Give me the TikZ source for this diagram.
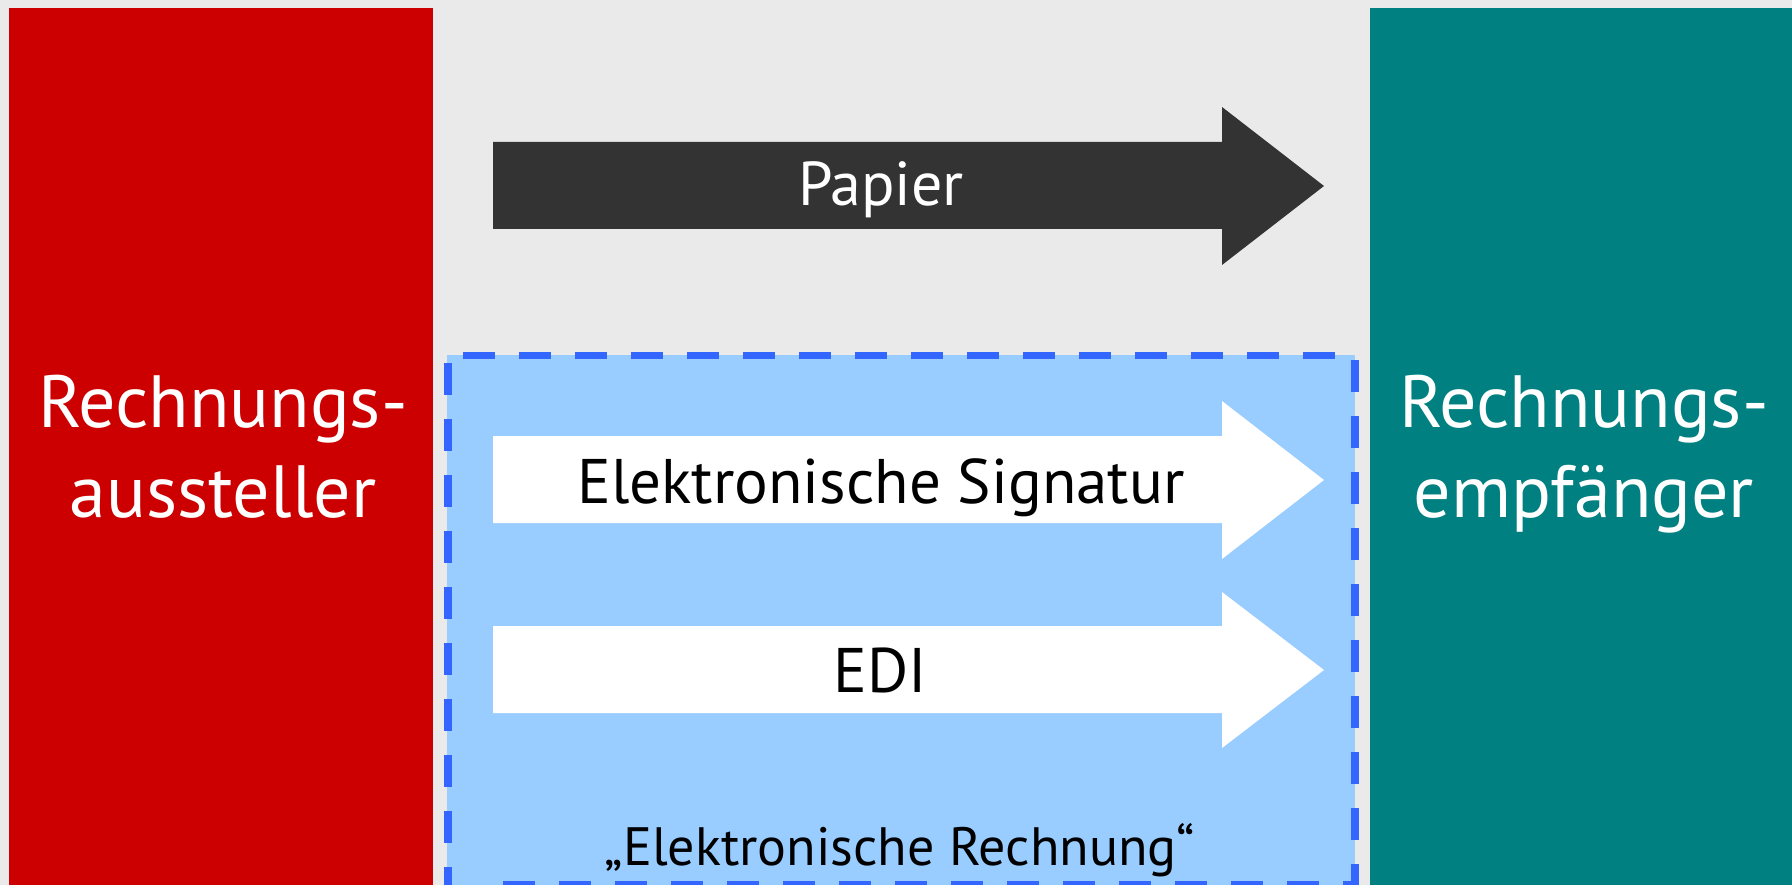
\documentclass[tikz,border=0pt]{standalone}
\usepackage{fontspec}
\setmainfont{PT Sans}
\definecolor{bgc}{HTML}{EAEAEA}
\definecolor{senderred}{HTML}{CC0000}
\definecolor{recvteal}{HTML}{008080}
\definecolor{darkarrow}{HTML}{333333}
\definecolor{elfill}{HTML}{99CCFF}
\definecolor{eldash}{HTML}{3366FF}
\begin{document}
\begin{tikzpicture}[x=1pt,y=-1pt,
  lbl/.style={inner sep=0pt, anchor=base},
  biglbl/.style={lbl, text=white, font=\fontsize{74}{90}\selectfont},
  dashseg/.style={fill=eldash}]
\useasboundingbox (0,0) rectangle (1792,885);
\fill[bgc] (0,0) rectangle (1792,885);
% side boxes
\fill[senderred] (9,8) rectangle (433,885);
\fill[recvteal] (1370,8) rectangle (1792,885);
% electronic area
\fill[elfill] (447,355) rectangle (1355,885);
\foreach \i in {0,...,15} \path[dashseg] ({463+56*\i},352) rectangle ++(32,7);
\foreach \i in {0,...,9} \path[dashseg] (1351,{360+56*\i}) rectangle ++(8,32);
\foreach \i in {0,...,9} \path[dashseg] (444,{363+56*\i}) rectangle ++(8,32);
\foreach \i in {0,...,14} \path[dashseg] ({1287-56*\i},881) rectangle ++(32,8);
\path[dashseg] (1343,881) rectangle (1359,888);
% arrows
\fill[darkarrow] (493,142) -- (1222,142) -- (1222,107) -- (1324,186) -- (1222,265) -- (1222,229) -- (493,229) -- cycle;
\fill[white] (493,436) -- (1222,436) -- (1222,401) -- (1324,480) -- (1222,559) -- (1222,523) -- (493,523) -- cycle;
\fill[white] (493,626) -- (1222,626) -- (1222,592) -- (1324,670) -- (1222,748) -- (1222,713) -- (493,713) -- cycle;
% labels
\node[biglbl] (s1) at (223,427) {Rechnungs-};
\node[biglbl] (s2) at (223,517) {aussteller};
\node[biglbl] (r1) at (1584,427) {Rechnungs-};
\node[biglbl] (r2) at (1584,517) {empfänger};
\node[lbl, text=white, font=\fontsize{62}{72}\selectfont] (papier) at (881,206) {Papier};
\node[lbl, font=\fontsize{63}{75}\selectfont] (sig) at (881,503) {Elektronische Signatur};
\node[lbl, font=\fontsize{63}{75}\selectfont] (edi) at (880,692) {EDI};
\node[lbl, font=\fontsize{54}{64}\selectfont] (erech) at (900,865) {„Elektronische Rechnung“};
\end{tikzpicture}
\end{document}
